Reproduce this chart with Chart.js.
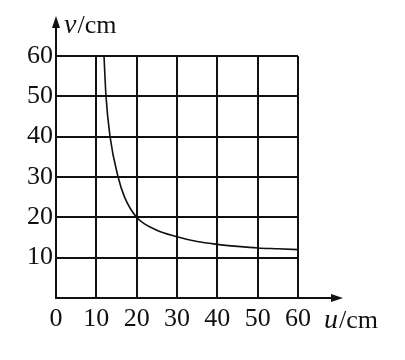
<!DOCTYPE html>
<html>
<head>
<meta charset="utf-8">
<script src="https://cdn.jsdelivr.net/npm/chart.js@4/dist/chart.umd.min.js"></script>
<style>
  html, body { margin: 0; padding: 0; background: #fff; }
  #wrap { width: 405px; height: 360px; }
</style>
</head>
<body>
<div id="wrap"><canvas id="lens-chart"></canvas></div>
<script>
// values (object distance u, image distance v, both cm)
const uValues = [11.9, 12.4, 13.4, 15.4, 17, 20, 25, 30, 35, 40, 45, 50, 55, 60]
const vValues = [60, 50, 40, 30, 25, 20, 16.8, 15.2, 14, 13.3, 12.8, 12.4, 12.2, 12]
const xTicks = [0, 10, 20, 30, 40, 50, 60]
const yTicks = [10, 20, 30, 40, 50, 60]

const serif = '"Liberation Serif", "DejaVu Serif", serif'

const axisArrows = {
    id: 'axisArrows',
    afterDraw(chart) {
        const c = chart.ctx
        const x = chart.scales.x
        const y = chart.scales.y
        const x0 = x.getPixelForValue(0)
        const y0 = y.getPixelForValue(0)
        c.save()
        c.strokeStyle = '#111'
        c.fillStyle = '#111'
        c.lineWidth = 2
        // y axis up to arrow
        c.beginPath()
        c.moveTo(x0, y0)
        c.lineTo(x0, 26)
        c.stroke()
        c.beginPath()
        c.moveTo(x0, 16)
        c.lineTo(x0 - 4, 28)
        c.lineTo(x0 + 4, 28)
        c.closePath()
        c.fill()
        // x axis to arrow
        c.beginPath()
        c.moveTo(x0, y0)
        c.lineTo(334, y0)
        c.stroke()
        c.beginPath()
        c.moveTo(343, y0)
        c.lineTo(331, y0 - 4)
        c.lineTo(331, y0 + 4)
        c.closePath()
        c.fill()
        // axis names
        c.textBaseline = 'alphabetic'
        c.font = 'italic 28px ' + serif
        c.fillText('v', 64, 33)
        let w = c.measureText('v').width
        c.font = '26px ' + serif
        c.fillText('/cm', 64 + w + 1, 33)
        c.font = 'italic 28px ' + serif
        c.fillText('u', 324, 328)
        w = c.measureText('u').width
        c.font = '26px ' + serif
        c.fillText('/cm', 324 + w + 1, 328)
        c.restore()
    }
}

const ctx = document.getElementById('lens-chart').getContext('2d')
const lensChart = new Chart(ctx, {
    type: 'scatter',
    data: {
        datasets: [{
            label: 'v',
            data: uValues.map((u, i) => ({x: u, y: vValues[i]})),
            showLine: true,
            borderColor: '#111',
            borderWidth: 1.6,
            pointRadius: 0,
            cubicInterpolationMode: 'monotone',
            fill: false
        }]
    },
    options: {
        responsive: true,
        maintainAspectRatio: false,
        animation: false,
        layout: {
            padding: {top: 56, right: 107, left: 0, bottom: 0}
        },
        plugins: {
            legend: {display: false},
            tooltip: {enabled: false}
        },
        scales: {
            x: {
                type: 'linear',
                min: 0,
                max: 60,
                afterBuildTicks(scale) {
                    scale.ticks = xTicks.map(v => ({value: v}))
                },
                afterFit(scale) {
                    scale.height = 62
                },
                border: {display: true, color: '#111', width: 2},
                grid: {color: '#111', lineWidth: 2, drawTicks: false},
                ticks: {
                    color: '#111',
                    padding: 6,
                    maxRotation: 0,
                    font: {family: serif, size: 26}
                }
            },
            y: {
                type: 'linear',
                min: 0,
                max: 60,
                afterBuildTicks(scale) {
                    scale.ticks = yTicks.map(v => ({value: v}))
                },
                afterFit(scale) {
                    scale.width = 56
                },
                border: {display: true, color: '#111', width: 2},
                grid: {color: '#111', lineWidth: 2, drawTicks: false},
                ticks: {
                    color: '#111',
                    padding: 3,
                    font: {family: serif, size: 26}
                }
            }
        }
    },
    plugins: [axisArrows]
})
</script>
</body>
</html>
